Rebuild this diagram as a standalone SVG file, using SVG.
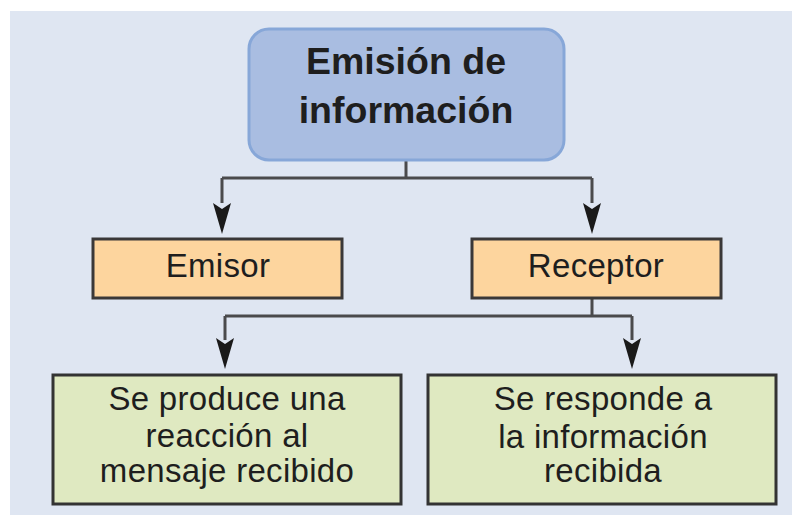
<svg xmlns="http://www.w3.org/2000/svg" width="792" height="515" viewBox="0 0 792 515">
<defs>
<style>
text{font-family:"Liberation Sans",Arial,sans-serif;fill:#1e1e1e;text-anchor:middle}
.title{font-size:37.5px;font-weight:bold}
.lbl{font-size:33px;letter-spacing:0.3px}
.orange{fill:#fdd59e;stroke:#3a3838;stroke-width:3}
.green{fill:#dfe9c1;stroke:#333;stroke-width:3}
.conn{fill:none;stroke:#4a4a4c;stroke-width:3}
.head{fill:#1a1a1a}
</style>
</defs>
<rect x="0" y="0" width="792" height="515" fill="#ffffff"/>
<rect x="10" y="11" width="782" height="504" fill="#dfe6f2"/>
<g id="connectors">
<path class="conn" d="M406,160 V178"/>
<path class="conn" d="M222,178 H592"/>
<path class="conn" d="M222,178 V203"/>
<path class="conn" d="M592,178 V203"/>
<path class="head" d="M213,203 L222,209 L231,203 L222,234 Z"/>
<path class="head" d="M583,203 L592,209 L601,203 L592,234 Z"/>
<path class="conn" d="M592,299 V316"/>
<path class="conn" d="M225,316 H632"/>
<path class="conn" d="M225,316 V340"/>
<path class="conn" d="M632,316 V340"/>
<path class="head" d="M216,338 L225,344 L234,338 L225,369 Z"/>
<path class="head" d="M623,338 L632,344 L641,338 L632,369 Z"/>
</g>
<g id="node-emision">
<rect x="249" y="29" width="315" height="131" rx="20" fill="#a9bde1" stroke="#87a7d8" stroke-width="3"/>
<text class="title" x="406" y="74">Emisión de</text>
<text class="title" x="406" y="123">información</text>
</g>
<g id="node-emisor">
<rect class="orange" x="93" y="239" width="249" height="59"/>
<text class="lbl" x="218" y="277">Emisor</text>
</g>
<g id="node-receptor">
<rect class="orange" x="472" y="239" width="249" height="59"/>
<text class="lbl" x="596" y="277">Receptor</text>
</g>
<g id="node-reaccion">
<rect class="green" x="53" y="375" width="348" height="129"/>
<text class="lbl" x="227" y="410">Se produce una</text>
<text class="lbl" x="227" y="447">reacción al</text>
<text class="lbl" x="227" y="482">mensaje recibido</text>
</g>
<g id="node-responde">
<rect class="green" x="428" y="375" width="348" height="129"/>
<text class="lbl" x="603" y="410">Se responde a</text>
<text class="lbl" x="603" y="448">la información</text>
<text class="lbl" x="603" y="482">recibida</text>
</g>
</svg>
